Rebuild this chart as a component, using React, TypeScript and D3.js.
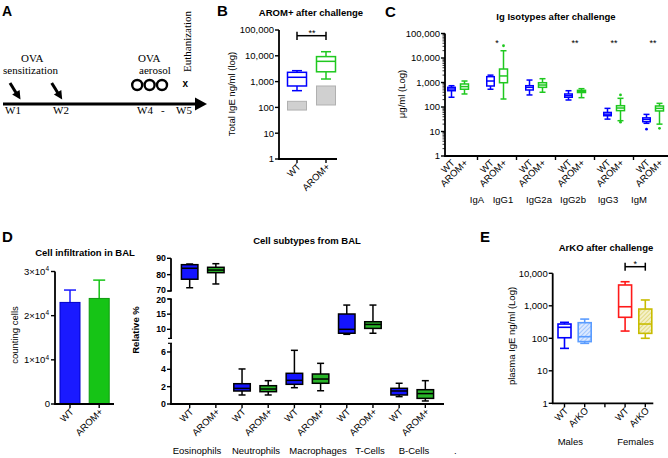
import React from "react";
import * as d3 from "d3";

// ---------------- DATA ----------------
// Panel B (Total IgE, log) : [min, q1, median, q3, max]
const bCategories = ["WT", "AROM+"];
const bWT = [445, 676, 1470, 2290, 2650];
const bAROM = [1260, 2400, 6100, 9300, 14400];
const bBaselineWT = [79, 172];
const bBaselineAROM = [124, 676];

// Panel C (Ig isotypes, log) : [min, q1, median, q3, max]
const cIsotypes = ["IgA", "IgG1", "IgG2a", "IgG2b", "IgG3", "IgM"];
const cSeries = ["WT", "AROM+"];
const cWT = [
  [250, 462, 543, 635, 740],
  [530, 720, 1150, 1730, 2000],
  [310, 495, 635, 740, 1260],
  [193, 250, 290, 340, 462],
  [32, 44, 51, 60, 88],
  [21.6, 25, 31, 36, 50],
];
const cAROM = [
  [340, 530, 680, 870, 1150],
  [212, 980, 1850, 3550, 19800],
  [400, 635, 790, 980, 1430],
  [240, 390, 430, 480, 560],
  [27.6, 71, 91, 113, 226],
  [20, 69, 88, 110, 141],
];
const cWTOutliers = [[], [], [], [], [], [12.4]];
const cAROMOutliers = [[], [31600], [], [], [310, 24], [13.5]];
const cStars = ["", "*", "", "**", "**", "**"];

// Panel D left (cell counts)
const dlCategories = ["WT", "AROM+"];
const dlMeans = [23000, 23900];
const dlErrors = [2800, 4150];

// Panel D right (relative %) : [min, q1, median, q3, max]
const dCellTypes = ["Eosinophils", "Neutrophils", "Macrophages", "T-Cells", "B-Cells"];
const dWT = [
  [72.0, 77.2, 83.9, 86.1, 86.5],
  [1.04, 1.5, 1.8, 2.34, 4.04],
  [1.88, 2.27, 2.73, 3.54, 6.19],
  [8.35, 8.7, 10.0, 15.05, 18.0],
  [0.85, 1.04, 1.5, 1.81, 2.39],
];
const dAROM = [
  [74.3, 81.2, 82.8, 84.5, 86.7],
  [1.04, 1.42, 1.73, 2.11, 2.69],
  [1.53, 2.39, 2.88, 3.46, 4.69],
  [8.7, 10.3, 11.6, 12.5, 18.0],
  [0.35, 0.65, 1.2, 1.65, 2.69],
];
const dTicksTop = [70, 80, 90];
const dTicksMid = [10, 15, 20];
const dTicksBottom = [0, 2, 4, 6];

// Panel E (ArKO, log) : [min, q1, median, q3, max]
const eGroups = ["Males", "Females"];
const eCategories = ["WT", "ArKO", "", "WT", "ArKO"];
const eBoxes = [
  [49, 104, 218, 275, 310],
  [70, 79, 112, 302, 390],
  null,
  [167, 443, 935, 4370, 5500],
  [100, 142, 275, 795, 1510],
];

// ---------------- STYLE ----------------
const SANS = "Liberation Sans, Arial, Helvetica, sans-serif";
const SERIF = "Liberation Serif, Times New Roman, serif";
const BLUE = "#0000ff";
const GREEN = "#1fc81f";
const FS = 9.5;

type Stats = number[];

function BoxPlot(props: {
  cx: number; w: number; s: Stats; y: (v: number) => number; stroke: string;
  fill?: string; sw?: number; capW?: number; medStroke?: string;
}) {
  const { cx, w, s, y, stroke } = props;
  const fill = props.fill ?? "white";
  const sw = props.sw ?? 1.5;
  const capW = props.capW ?? w * 0.5;
  const [mn, q1, md, q3, mx] = s;
  return (
    <g>
      <line x1={cx} x2={cx} y1={y(mx)} y2={y(q3)} stroke={stroke} strokeWidth={sw} />
      <line x1={cx} x2={cx} y1={y(q1)} y2={y(mn)} stroke={stroke} strokeWidth={sw} />
      <line x1={cx - capW / 2} x2={cx + capW / 2} y1={y(mx)} y2={y(mx)} stroke={stroke} strokeWidth={sw} />
      <line x1={cx - capW / 2} x2={cx + capW / 2} y1={y(mn)} y2={y(mn)} stroke={stroke} strokeWidth={sw} />
      <rect x={cx - w / 2} y={y(q3)} width={w} height={y(q1) - y(q3)} fill={fill} stroke={stroke} strokeWidth={sw} />
      <line x1={cx - w / 2} x2={cx + w / 2} y1={y(md)} y2={y(md)} stroke={props.medStroke ?? stroke} strokeWidth={sw} />
    </g>
  );
}

function RotLabel({ x, y, text, size = FS, weight = "normal" }: any) {
  return (
    <text transform={`translate(${x},${y}) rotate(-45)`} textAnchor="end" dy="0.35em"
      fontSize={size} fontFamily={SANS} fontWeight={weight}>{text}</text>
  );
}

function YTitle({ x, y, text, size = FS, weight = "normal" }: any) {
  return (
    <text transform={`translate(${x},${y}) rotate(-90)`} textAnchor="middle" dy="0.35em"
      fontSize={size} fontFamily={SANS} fontWeight={weight}>{text}</text>
  );
}

function LogAxis({ x, y, domainMax, minor }: { x: number; y: d3.ScaleLogarithmic<number, number>; domainMax: number; minor?: boolean }) {
  const majors: number[] = [];
  for (let v = 1; v <= domainMax; v *= 10) majors.push(v);
  const minors: number[] = [];
  if (minor) {
    for (let v = 1; v < domainMax; v *= 10) for (let k = 2; k <= 9; k++) minors.push(v * k);
  }
  const fmt = d3.format(",");
  return (
    <g>
      <line x1={x} x2={x} y1={y(1) + 0.75} y2={y(domainMax)} stroke="black" strokeWidth={1.8} />
      {majors.map((v) => (
        <g key={v}>
          <line x1={x - 4} x2={x} y1={y(v)} y2={y(v)} stroke="black" strokeWidth={1.4} />
          <text x={x - 5} y={y(v)} dy="0.35em" textAnchor="end" fontSize={FS} fontFamily={SANS}>{fmt(v)}</text>
        </g>
      ))}
      {minors.map((v) => (
        <line key={v} x1={x - 2.5} x2={x} y1={y(v)} y2={y(v)} stroke="black" strokeWidth={0.8} />
      ))}
    </g>
  );
}

export default function App() {
  // ---------- Panel B ----------
  const yB = d3.scaleLog().domain([1, 1e5]).range([159, 30]);
  const xB = d3.scalePoint<string>().domain(bCategories).range([297, 326]);
  const bBoxes = [bWT, bAROM];
  const bBase = [bBaselineWT, bBaselineAROM];
  const bColors = [BLUE, GREEN];

  // ---------- Panel C ----------
  const yC = d3.scaleLog().domain([1, 1e5]).range([156, 33.5]);
  const slotW = 13;
  const xSlot = d3.scaleLinear().domain([0, 1]).range([451.5, 451.5 + slotW]);
  const cGroupLabelX = [477, 503, 539, 573, 608, 639];

  // ---------- Panel D left ----------
  const yDL = d3.scaleLinear().domain([0, 30000]).range([404, 271.5]);
  const xDL = d3.scalePoint<string>().domain(dlCategories).range([70, 99.2]);

  // ---------- Panel D right (broken axis) ----------
  const segBottom = d3.scaleLinear().domain([0, 7]).range([404, 343.3]);
  const segMid = d3.scaleLinear().domain([7, 20]).range([338.4, 299]);
  const segTop = d3.scaleLinear().domain([70, 90]).range([291, 258.3]);
  const yDR = (v: number) => (v <= 7 ? segBottom(v) : v <= 20 ? segMid(v) : segTop(v));
  const drKeys: string[] = [];
  dCellTypes.forEach((c) => { drKeys.push(c + "|WT"); drKeys.push(c + "|AROM+"); });
  const xDR = d3.scalePoint<string>().domain(drKeys).range([171, 444]).padding(0.713);
  const axDR = 171;
  const drGroupLabelX = [197, 256, 318, 370, 414];

  // ---------- Panel E ----------
  const yE = d3.scaleLog().domain([1, 1e4]).range([403.3, 273.3]);
  const xE = d3.scaleLinear().domain([0, 1]).range([564.5, 584.7]);
  const eColors = [BLUE, "#5a9cff", "", "#ff1a1a", "#c8bc00"];
  const eFills = ["white", "url(#hatchBlue)", "", "white", "url(#hatchYellow)"];

  const drTicks = [
    ...dTicksTop.map((v) => ({ v, y: segTop(v), off: v === 70 ? -1.2 : 0 })),
    ...dTicksMid.map((v) => ({ v, y: segMid(v), off: v === 20 ? 1.2 : 0 })),
    ...dTicksBottom.map((v) => ({ v, y: segBottom(v), off: 0 })),
  ];

  return (
    <svg width={668} height={458} style={{ position: "absolute", left: 0, top: 0, background: "white" }}
      fontFamily={SANS}>
      <defs>
        <pattern id="hatchBlue" width="3" height="3" patternUnits="userSpaceOnUse" patternTransform="rotate(45)">
          <rect width="3" height="3" fill="#dce9ff" />
          <line x1="0" y1="0" x2="0" y2="3" stroke="#7aaeff" strokeWidth="1.2" />
        </pattern>
        <pattern id="hatchYellow" width="3" height="3" patternUnits="userSpaceOnUse" patternTransform="rotate(45)">
          <rect width="3" height="3" fill="#f4f0c8" />
          <line x1="0" y1="0" x2="0" y2="3" stroke="#d6cc50" strokeWidth="1.2" />
        </pattern>
      </defs>

      {/* ================= Panel A ================= */}
      <text x={2} y={16} fontSize={14} fontWeight="bold">A</text>
      <g fontFamily={SERIF} fontSize={11}>
        <text x={21} y={62}>OVA</text>
        <text x={3} y={74}>sensitization</text>
        <text x={138} y={62}>OVA</text>
        <text x={139} y={74}>aerosol</text>
        <text x={5} y={114}>W1</text>
        <text x={53} y={114}>W2</text>
        <text x={137} y={114}>W4</text>
        <text x={161} y={114}>-</text>
        <text x={176} y={114}>W5</text>
        <text transform="translate(190.5,72) rotate(-90)">Euthanization</text>
      </g>
      {[0, 41.7].map((dx) => (
        <g key={dx} transform={`translate(${dx},0)`}>
          <line x1={10} y1={83} x2={16.5} y2={93.5} stroke="black" strokeWidth={3} />
          <polygon points="20.5,99.5 12.2,94.6 19.6,89.9" fill="black" />
        </g>
      ))}
      {[137.2, 149.6, 162].map((cx) => (
        <circle key={cx} cx={cx} cy={85} r={5} fill="none" stroke="black" strokeWidth={2.4} />
      ))}
      <text x={182.5} y={87} fontSize={10} fontWeight="bold">x</text>
      <line x1={3} x2={198} y1={104} y2={104} stroke="black" strokeWidth={3.2} />
      <polygon points="195,97.5 207,104 195,110.5" fill="black" />

      {/* ================= Panel B ================= */}
      <text x={217} y={16} fontSize={15} fontWeight="bold">B</text>
      <text x={311} y={16} textAnchor="middle" fontSize={FS} fontWeight="bold">AROM+ after challenge</text>
      {bBase.map((r, i) => (
        <rect key={"g" + i} x={xB(bCategories[i])! - 9.5} y={yB(r[1])} width={19} height={yB(r[0]) - yB(r[1])}
          fill="#d0d0d0" stroke="#b0b0b0" strokeWidth={1} />
      ))}
      {bBoxes.map((s, i) => (
        <BoxPlot key={i} cx={xB(bCategories[i])!} w={19} s={s} y={yB} stroke={bColors[i]} capW={10} />
      ))}
      <LogAxis x={279} y={yB} domainMax={1e5} />
      <line x1={278.2} x2={337} y1={159} y2={159} stroke="black" strokeWidth={1.8} />
      {bCategories.map((c) => (
        <g key={c}>
          <line x1={xB(c)!} x2={xB(c)!} y1={159} y2={163} stroke="black" strokeWidth={1.4} />
          <RotLabel x={xB(c)! + 2} y={165} text={c} />
        </g>
      ))}
      <YTitle x={232} y={94} text="Total IgE ng/ml (log)" />
      <g stroke="black" strokeWidth={1.5}>
        <line x1={xB("WT")!} x2={xB("AROM+")!} y1={35.7} y2={35.7} />
        <line x1={xB("WT")!} x2={xB("WT")!} y1={31.7} y2={40} />
        <line x1={xB("AROM+")!} x2={xB("AROM+")!} y1={31.7} y2={40} />
      </g>
      <text x={312} y={36} textAnchor="middle" fontSize={9}>**</text>

      {/* ================= Panel C ================= */}
      <text x={385} y={17} fontSize={15} fontWeight="bold">C</text>
      <text x={556} y={19.5} textAnchor="middle" fontSize={FS} fontWeight="bold">Ig Isotypes after challenge</text>
      {cIsotypes.map((iso, g) => {
        const xw = xSlot(g * 3);
        const xa = xSlot(g * 3 + 1);
        return (
          <g key={iso}>
            <BoxPlot cx={xw} w={7.5} s={cWT[g]} y={yC} stroke={BLUE} capW={6} />
            <BoxPlot cx={xa} w={8} s={cAROM[g]} y={yC} stroke={GREEN} capW={6} />
            {cWTOutliers[g].map((v, k) => (
              <circle key={"w" + k} cx={xw} cy={yC(v)} r={1.4} fill={BLUE} />
            ))}
            {cAROMOutliers[g].map((v, k) => (
              <circle key={"a" + k} cx={xa} cy={yC(v)} r={1.4} fill={GREEN} />
            ))}
            {cStars[g] && (
              <text x={(xw + xa) / 2} y={46} textAnchor="middle" fontSize={9}>{cStars[g]}</text>
            )}
            <RotLabel x={xw + 1.5} y={161} text={cSeries[0]} />
            <RotLabel x={xa + 1.5} y={161} text={cSeries[1]} />
            <text x={cGroupLabelX[g]} y={203} textAnchor="middle" fontSize={FS}>{iso}</text>
            {g < 5 && (
              <line x1={xSlot(g * 3 + 2)} x2={xSlot(g * 3 + 2)} y1={156} y2={160} stroke="black" strokeWidth={1.4} />
            )}
          </g>
        );
      })}
      <LogAxis x={445} y={yC} domainMax={1e5} minor />
      <line x1={444.2} x2={668} y1={156} y2={156} stroke="black" strokeWidth={1.8} />
      <YTitle x={402} y={94} text="μg/ml (Log)" />

      {/* ================= Panel D left ================= */}
      <text x={2} y={242} fontSize={15} fontWeight="bold">D</text>
      <text x={85} y={256} textAnchor="middle" fontSize={FS} fontWeight="bold">Cell infiltration in BAL</text>
      {dlCategories.map((c, i) => {
        const col = i === 0 ? "#1a1aff" : "#16c416";
        const cx = xDL(c)!;
        return (
          <g key={c}>
            <line x1={cx} x2={cx} y1={yDL(dlMeans[i])} y2={yDL(dlMeans[i] + dlErrors[i])} stroke={col} strokeWidth={1.5} />
            <line x1={cx - 6} x2={cx + 6} y1={yDL(dlMeans[i] + dlErrors[i])} y2={yDL(dlMeans[i] + dlErrors[i])} stroke={col} strokeWidth={1.5} />
            <rect x={cx - 10} y={yDL(dlMeans[i])} width={20} height={yDL(0) - yDL(dlMeans[i])} fill={col}
              stroke={i === 0 ? "#0000c8" : "#0e9a0e"} strokeWidth={1} />
            <line x1={cx} x2={cx} y1={404} y2={408} stroke="black" strokeWidth={1.4} />
            <RotLabel x={cx + 2} y={410} text={c} />
          </g>
        );
      })}
      <line x1={55} x2={55} y1={404.75} y2={271.5} stroke="black" strokeWidth={1.8} />
      <line x1={54.2} x2={114} y1={404} y2={404} stroke="black" strokeWidth={1.8} />
      {[0, 10000, 20000, 30000].map((v) => (
        <g key={v}>
          <line x1={51} x2={55} y1={yDL(v)} y2={yDL(v)} stroke="black" strokeWidth={1.4} />
          {v === 0 ? (
            <text x={50} y={yDL(v)} dy="0.35em" textAnchor="end" fontSize={FS}>0</text>
          ) : (
            <text x={49} y={yDL(v)} dy="0.35em" textAnchor="end" fontSize={FS}>
              {`${v / 10000}×10`}
              <tspan fontSize={6.5} dy="-3.5">4</tspan>
            </text>
          )}
        </g>
      ))}
      <YTitle x={15} y={335} text="counting cells" />

      {/* ================= Panel D right ================= */}
      <text x={307} y={244} textAnchor="middle" fontSize={FS} fontWeight="bold">Cell subtypes from BAL</text>
      {dCellTypes.map((c, g) => {
        const xw = xDR(c + "|WT")!;
        const xa = xDR(c + "|AROM+")!;
        return (
          <g key={c}>
            <BoxPlot cx={xw} w={16.5} s={dWT[g]} y={yDR} stroke="black" fill="#1414ff" capW={7} />
            <BoxPlot cx={xa} w={16.5} s={dAROM[g]} y={yDR} stroke="black" fill="#28b428" capW={7} />
            <line x1={xw} x2={xw} y1={404} y2={408} stroke="black" strokeWidth={1.4} />
            <line x1={xa} x2={xa} y1={404} y2={408} stroke="black" strokeWidth={1.4} />
            <RotLabel x={xw + 2} y={410} text="WT" />
            <RotLabel x={xa + 2} y={410} text="AROM+" />
            <text x={drGroupLabelX[g]} y={454} textAnchor="middle" fontSize={FS}>{c}</text>
          </g>
        );
      })}
      <text x={454} y={454} fontSize={FS}>.</text>
      {/* broken y-axis */}
      <g stroke="black" strokeWidth={1.8}>
        <line x1={axDR} x2={axDR} y1={segTop(70)} y2={segTop(90)} />
        <line x1={axDR} x2={axDR} y1={segMid(7)} y2={segMid(20)} />
        <line x1={axDR} x2={axDR} y1={segBottom(0) + 0.75} y2={segBottom(7)} />
        <line x1={axDR - 3} x2={axDR + 1} y1={segTop(70)} y2={segTop(70)} strokeWidth={1.2} />
        <line x1={axDR - 3} x2={axDR + 1} y1={segMid(20)} y2={segMid(20)} strokeWidth={1.2} />
        <line x1={axDR - 3} x2={axDR + 1} y1={segMid(7)} y2={segMid(7)} strokeWidth={1.2} />
        <line x1={axDR - 3} x2={axDR + 1} y1={segBottom(7)} y2={segBottom(7)} strokeWidth={1.2} />
        <line x1={axDR - 0.8} x2={444} y1={404} y2={404} />
      </g>
      {drTicks.map((t) => (
        <g key={"t" + t.v}>
          <line x1={axDR - 4} x2={axDR} y1={t.y} y2={t.y} stroke="black" strokeWidth={1.4} />
          <text x={axDR - 5} y={t.y + t.off} dy="0.35em" textAnchor="end" fontSize={8.8} fontWeight="bold">{t.v}</text>
        </g>
      ))}
      <YTitle x={136} y={330} text="Relative %" weight="bold" />

      {/* ================= Panel E ================= */}
      <text x={480} y={242} fontSize={15} fontWeight="bold">E</text>
      <text x={606} y={251} textAnchor="middle" fontSize={FS} fontWeight="bold">ArKO after challenge</text>
      {eCategories.map((c, i) => {
        const cx = xE(i);
        const s = eBoxes[i];
        return (
          <g key={i}>
            {s && <BoxPlot cx={cx} w={13} s={s} y={yE} stroke={eColors[i]} fill={eFills[i]} capW={9} sw={1.6} />}
            <line x1={cx} x2={cx} y1={403.3} y2={407.3} stroke="black" strokeWidth={1.4} />
            {c && <RotLabel x={cx + 2} y={409} text={c} />}
          </g>
        );
      })}
      <LogAxis x={552.7} y={yE} domainMax={1e4} />
      <line x1={551.9} x2={653.3} y1={403.3} y2={403.3} stroke="black" strokeWidth={1.8} />
      <text x={570.3} y={445} textAnchor="middle" fontSize={FS}>{eGroups[0]}</text>
      <text x={635.5} y={445} textAnchor="middle" fontSize={FS}>{eGroups[1]}</text>
      <YTitle x={511.5} y={336} text="plasma IgE ng/ml (Log)" />
      <g stroke="black" strokeWidth={1.5}>
        <line x1={xE(3)} x2={xE(4)} y1={266.7} y2={266.7} />
        <line x1={xE(3)} x2={xE(3)} y1={262.7} y2={270.7} />
        <line x1={xE(4)} x2={xE(4)} y1={262.7} y2={270.7} />
      </g>
      <text x={(xE(3) + xE(4)) / 2} y={267} textAnchor="middle" fontSize={9}>*</text>
    </svg>
  );
}
